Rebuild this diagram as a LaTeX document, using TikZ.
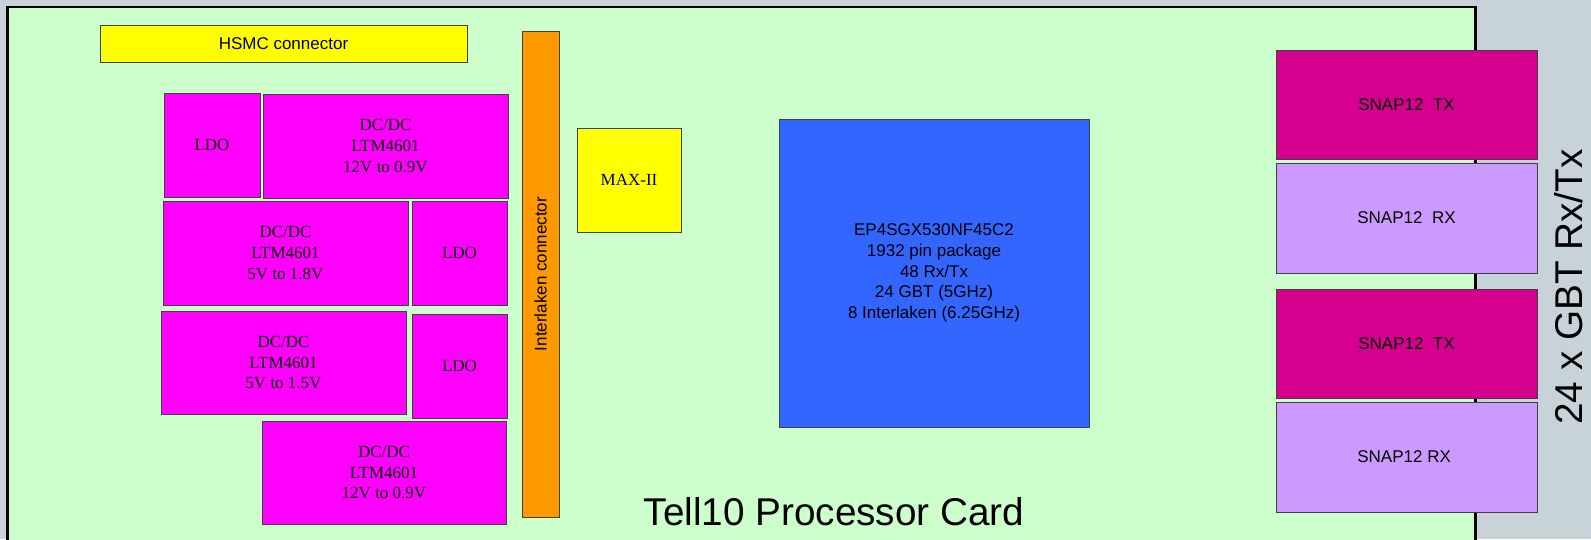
\documentclass[tikz,border=0pt]{standalone}
\usepackage{fontspec}
\setmainfont{Liberation Serif}
\setsansfont{Liberation Sans}
\definecolor{pagebg}{HTML}{C7D2D9}
\definecolor{boardbg}{HTML}{CCFFCC}
\definecolor{pwrcol}{HTML}{FF00FF}
\definecolor{conncol}{HTML}{FFFF00}
\definecolor{ilkcol}{HTML}{FF9900}
\definecolor{fpgacol}{HTML}{3366FF}
\definecolor{txcol}{HTML}{D6008F}
\definecolor{rxcol}{HTML}{CC99FF}
\tikzset{
  blk/.style={draw=black!75, line width=0.9pt, inner sep=0pt, align=center},
  rmtxt/.style={font=\fontsize{17}{20.7}\selectfont\rmfamily},
  sftxt/.style={font=\fontsize{17}{20.7}\selectfont\sffamily},
}
\begin{document}
\begin{tikzpicture}[x=1pt,y=-1pt]
  \clip (0,0) rectangle (1591,539);
  \fill[pagebg] (0,0) rectangle (1591,539);

  % Board
  \draw[fill=boardbg, line width=2.5pt] (7.5,7) rectangle (1475.5,580);

  % Connectors
  \node[blk, sftxt, fill=conncol, minimum width=367, minimum height=37] (hsmc) at (283.5,43.5) {HSMC connector};
  \node[blk, sftxt, fill=ilkcol, minimum width=37, minimum height=486] (ilk) at (540.5,274) {};
  \node[sftxt, rotate=90] (ilklabel) at (ilk.center) {Interlaken connector};

  % Power supplies
  \node[blk, rmtxt, fill=pwrcol, minimum width=96, minimum height=104] (ldoa) at (212,145) {LDO};
  \node[blk, rmtxt, fill=pwrcol, minimum width=245, minimum height=104] (dca) at (385.5,146) {DC/DC\\LTM4601\\12V to 0.9V};
  \node[blk, rmtxt, fill=pwrcol, minimum width=245, minimum height=104] (dcb) at (285.5,253) {DC/DC\\LTM4601\\5V to 1.8V};
  \node[blk, rmtxt, fill=pwrcol, minimum width=95, minimum height=104] (ldob) at (459.5,253) {LDO};
  \node[blk, rmtxt, fill=pwrcol, minimum width=245, minimum height=103] (dcc) at (283.5,362.5) {DC/DC\\LTM4601\\5V to 1.5V};
  \node[blk, rmtxt, fill=pwrcol, minimum width=95, minimum height=104] (ldoc) at (459.5,366) {LDO};
  \node[blk, rmtxt, fill=pwrcol, minimum width=244, minimum height=103] (dcd) at (384,472.5) {DC/DC\\LTM4601\\12V to 0.9V};

  % Logic
  \node[blk, rmtxt, fill=conncol, minimum width=104, minimum height=104] (maxii) at (629,180) {MAX-II};
  \node[blk, sftxt, fill=fpgacol, minimum width=310, minimum height=308] (fpga) at (934,273)
  {EP4SGX530NF45C2\\1932 pin package\\48 Rx/Tx\\24 GBT (5GHz)\\8 Interlaken (6.25GHz)};

  % Optical modules
  \foreach \n/\y/\h/\c/\t in {
    txa/104.5/109/txcol/{SNAP12\ \ TX},
    rxa/218/110/rxcol/{SNAP12\ \ RX},
    txb/343.5/109/txcol/{SNAP12\ \ TX},
    rxb/457/110/rxcol/{SNAP12 RX}
  }{
    \node[blk, sftxt, fill=\c, minimum width=261, minimum height=\h] (\n) at (1406.5,\y) {\t};
  }

  % Labels
  \node[font=\fontsize{38.7}{40}\selectfont\sffamily, anchor=base] (title) at (834,525) {Tell10 Processor Card};
  \node[font=\fontsize{38.7}{40}\selectfont\sffamily, anchor=base, rotate=90] (gbt) at (1582,287) {24 x GBT Rx/Tx};
\end{tikzpicture}
\end{document}
